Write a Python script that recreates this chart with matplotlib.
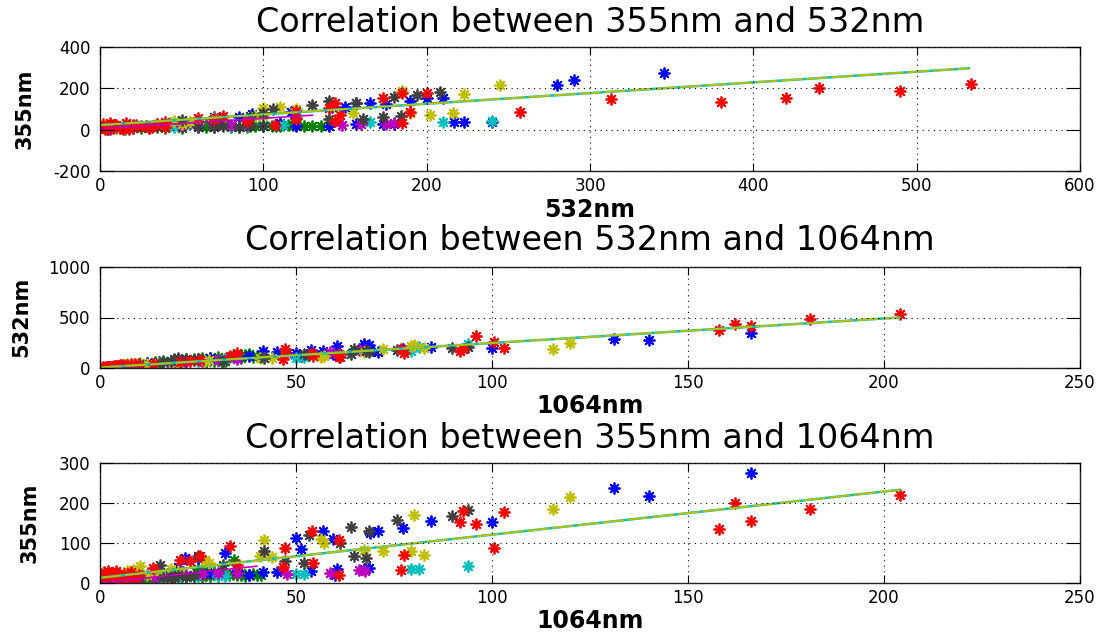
import matplotlib
matplotlib.use("Agg")
import matplotlib.pyplot as plt

# each series: values at 1064nm, 532nm and 355nm for the same samples
red_1064 = [204, 181, 166, 162, 158, 96, 100.6, 103, 92.5, 91.9, 76.7, 77.6, 61, 61, 54.1, 54.4,
            47.3, 46.7, 33.2, 25.6, 23, 20.5, 13.6, 35,
            0.5, 1, 1.2, 1.5, 2, 2.5, 2.8, 3, 3.5, 4, 4.2, 4.5, 5, 5.5, 6, 1, 2, 3, 7, 8, 9, 10, 0.8, 1.8]
red_532 = [533, 490, 420, 440, 380, 313, 257, 200, 185, 173, 185, 147, 107, 140, 144, 120,
           190, 90, 120, 75, 70, 60, 40, 144,
           1, 3, 4, 8, 5, 12, 9, 10, 15, 20, 16, 18, 25, 30, 22, 2, 6, 14, 32, 35, 40, 28, 6, 10]
red_355 = [220, 185, 155, 200, 135, 148, 87, 177, 179, 152, 33, 70, 21, 107, 129, 50,
           87, 40, 92, 67, 54, 58, 37, 44,
           12, 5, 2, 10, 15, 8, 25, 20, 12, 25, 30, 5, 18, 10, 22, 28, 30, 2, 15, 28, 12, 20, 18, 22]

blue_1064 = [166, 131, 140, 100, 84.4, 77.4, 70.9, 69, 68.6, 67.3, 60.5, 57, 59.5, 53.7, 51.3, 49.9,
             45.2, 41.6, 60, 32, 24.9, 21.7, 3, 5, 8, 10, 12, 15, 18, 20, 28, 35, 38]
blue_532 = [345, 290, 280, 200, 210, 190, 157, 175, 223, 240, 217, 165, 142, 180, 117, 150,
            157, 173, 140, 93, 85, 70, 10, 20, 30, 35, 50, 55, 60, 75, 100, 110, 120]
blue_355 = [275, 238, 217, 152, 154, 137, 129, 125, 37, 35, 35, 129, 110, 29, 85, 112,
            27, 27, 20, 75, 62, 62, 8, 15, 12, 25, 20, 30, 28, 40, 25, 30, 20]

green_1064 = [33, 34, 35, 36, 37, 38, 39, 40, 41, 36, 34.3, 2, 4, 6, 8, 10, 12, 14, 16, 18, 20,
              22, 24, 26, 28, 30, 31, 25, 15, 20, 9, 29, 32, 27]
green_532 = [110, 115, 120, 125, 130, 135, 110, 118, 108, 100, 120, 5, 15, 25, 30, 40, 50, 60, 65, 70, 80,
             85, 90, 95, 100, 105, 60, 75, 40, 45, 28, 65, 70, 55]
green_355 = [20, 22, 21, 20, 18, 19, 22, 21, 20, 24, 58, 3, 5, 6, 7, 9, 10, 11, 12, 12, 13,
             14, 15, 16, 17, 18, 25, 35, 25, 30, 20, 28, 22, 32]

cyan_1064 = [93.8, 81.4, 79.3, 52, 49.9, 2, 5, 10, 15, 20, 25, 30, 32]
cyan_532 = [240, 210, 165, 112, 100, 6, 15, 30, 45, 60, 70, 80, 90]
cyan_355 = [42, 35, 35, 23, 23, 4, 8, 12, 14, 16, 18, 18, 18]

magenta_1064 = [67.5, 58.8, 47.7, 66, 2, 4, 7, 10, 14, 18, 22, 26, 30, 35]
magenta_532 = [175, 160, 148, 180, 6, 12, 20, 30, 40, 50, 60, 70, 80, 90]
magenta_355 = [29, 26, 23, 32, 3, 6, 8, 12, 15, 16, 20, 22, 24, 25]

olive_1064 = [120, 115.5, 80.1, 79.3, 82.7, 72.3, 67.3, 56.3, 57.1, 41.8, 40.9, 43.9, 26.9, 27.7,
              10.2, 8.5, 6.8, 3, 5, 12, 15, 18, 20]
olive_532 = [245, 185, 223, 216, 202, 190, 155, 110, 120, 100, 95, 100, 70, 75,
             45, 40, 35, 10, 18, 40, 50, 55, 60]
olive_355 = [214, 185, 171, 79, 71, 79, 83, 110, 99, 107, 68, 65, 58, 50,
             42, 33, 29, 10, 15, 20, 28, 35, 30]

gray_1064 = [93.8, 89.9, 75.7, 68.6, 64, 61.2, 53.3, 64.8, 67.8, 52, 47.3, 41.8, 31.5, 25.1, 15.3,
             20, 19, 16, 18, 22, 24, 5, 10]
gray_532 = [208, 194, 180, 157, 140, 106, 130, 184, 173, 140, 161, 100, 73, 92, 50,
            100, 92, 60, 70, 85, 75, 20, 35]
gray_355 = [182, 167, 158, 129, 139, 100, 121, 67, 62.5, 50, 54, 79, 46, 68, 46,
            19, 16, 12, 15, 14, 20, 10, 15]

# fitted lines (end points)
fit_532_355_x = [0, 532]
fit_532_355_y = [22, 297]
fit_1064_532_x = [0, 204]
fit_1064_532_y = [5, 500]
fit_1064_355_x = [0, 204]
fit_1064_355_y = [13, 233]
mag_532_355_x = [0, 130]
mag_532_355_y = [5, 70]
mag_1064_532_x = [0, 40]
mag_1064_532_y = [0, 100]
mag_1064_355_x = [0, 40]
mag_1064_355_y = [0, 42]

series = [
    ((0, 0.5, 0), green_1064, green_532, green_355),
    ((0, 0, 1), blue_1064, blue_532, blue_355),
    ((0, 0.75, 0.75), cyan_1064, cyan_532, cyan_355),
    ((0.75, 0, 0.75), magenta_1064, magenta_532, magenta_355),
    ((0.75, 0.75, 0), olive_1064, olive_532, olive_355),
    ((0.25, 0.25, 0.25), gray_1064, gray_532, gray_355),
    ((1, 0, 0), red_1064, red_532, red_355),
]

plt.rcParams['font.family'] = 'DejaVu Sans'
plt.rcParams['axes.unicode_minus'] = False
fig = plt.figure(figsize=(11.02, 6.37), dpi=100)
W, H = 1102, 637


def make_ax(top, bottom):
    return fig.add_axes([100 / W, 1 - bottom / H, 980 / W, (bottom - top) / H])


ax1 = make_ax(47, 171)
ax2 = make_ax(267, 368)
ax3 = make_ax(463, 583)

mk = (8, 2, 0)
for col, v1064, v532, v355 in series:
    ax1.plot(v532, v355, linestyle='none', marker=mk, ms=8.5, mew=1.3, color=col)
    ax2.plot(v1064, v532, linestyle='none', marker=mk, ms=8.5, mew=1.3, color=col)
    ax3.plot(v1064, v355, linestyle='none', marker=mk, ms=8.5, mew=1.3, color=col)

for ax, mx, my, fx, fy in [(ax1, mag_532_355_x, mag_532_355_y, fit_532_355_x, fit_532_355_y),
                           (ax2, mag_1064_532_x, mag_1064_532_y, fit_1064_532_x, fit_1064_532_y),
                           (ax3, mag_1064_355_x, mag_1064_355_y, fit_1064_355_x, fit_1064_355_y)]:
    ax.plot(mx, my, color=(0.75, 0, 0.75), lw=1.2)
    ax.plot(fx, fy, color=(0, 0.75, 0.75), lw=1.8)
    ax.plot(fx, fy, color=(0.75, 0.75, 0), lw=1.3, dashes=(12, 2))

ax1.set_xlim(0, 600)
ax1.set_ylim(-200, 400)
ax1.set_xticks(range(0, 601, 100))
ax1.set_yticks(range(-200, 401, 200))
ax2.set_xlim(0, 250)
ax2.set_ylim(0, 1000)
ax2.set_xticks(range(0, 251, 50))
ax2.set_yticks([0, 500, 1000])
ax3.set_xlim(0, 250)
ax3.set_ylim(0, 300)
ax3.set_xticks(range(0, 251, 50))
ax3.set_yticks(range(0, 301, 100))

titles = ['Correlation between 355nm and 532nm',
          'Correlation between 532nm and 1064nm',
          'Correlation between 355nm and 1064nm']
xlabels = ['532nm', '1064nm', '1064nm']
ylabels = ['355nm', '532nm', '355nm']
title_y = [22, 241, 438]
xlabel_y = [210, 406, 621]
ylabel_x = [25, 21, 30]

for i, ax in enumerate([ax1, ax2, ax3]):
    ax.grid(True, linestyle=(0, (1, 4)), color='k', lw=0.8)
    ax.set_axisbelow(False)
    ax.tick_params(direction='in', top=True, right=True, labelsize=12, colors='k')
    ax.tick_params(axis='x', length=6, pad=4)
    ax.tick_params(axis='y', length=10, pad=7)
    for s in ax.spines.values():
        s.set_linewidth(1.0)
        s.set_color('#222222')
    fig.text(590 / W, 1 - title_y[i] / H, titles[i], ha='center', va='center', fontsize=24)
    fig.text(590 / W, 1 - xlabel_y[i] / H, xlabels[i], ha='center', va='center',
             fontsize=17, fontweight='bold')
    fig.text(ylabel_x[i] / W, 1 - [109, 317, 523][i] / H, ylabels[i], ha='center', va='center',
             rotation=90, fontsize=15, fontweight='bold')

fig.savefig('out.png', dpi=100)
